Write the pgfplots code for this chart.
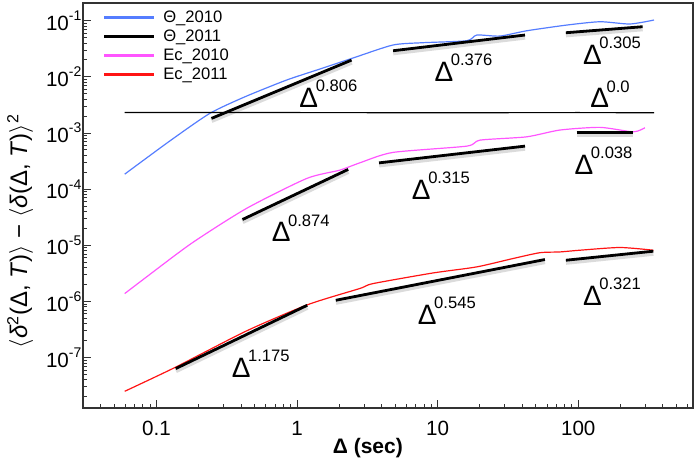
\documentclass[border=0pt]{standalone}
\usepackage{fontspec}
\setmainfont{Liberation Sans}
\usepackage{pgfplots}
\pgfplotsset{compat=1.18}
\usetikzlibrary{calc}
\definecolor{cblue}{RGB}{85,125,255}
\definecolor{cmag}{RGB}{255,85,255}
\definecolor{cred}{RGB}{255,20,20}
\newcommand{\dl}[1]{{\fontsize{14}{14}\selectfont Δ}\kern-1.2pt\raisebox{7.8pt}{\fontsize{8.3}{8.3}\selectfont #1}}
\newcommand{\tl}[1]{10\raisebox{4.8pt}{\fontsize{7}{7}\selectfont -#1}}
\tikzset{
  fitshadow/.style={black, opacity=0.14, line width=2.6pt, yshift=-1pt},
  fitline/.style={black, line width=1.4pt},
  lbl/.style={anchor=base west, inner sep=0pt},
}
\begin{document}
\begin{tikzpicture}
\begin{axis}[name=ax, xmode=log, ymode=log,
  width=305pt, height=202.5pt, scale only axis,
  xmin=0.03, xmax=655, ymin=1.265e-8, ymax=0.2068,
  axis line style={line width=0.7pt, black!80},
  tick align=inside, tick pos=left,
  major tick length=3.8pt, minor tick length=2pt,
  every tick/.style={black!80, line width=0.5pt},
  xtick={0.1,1,10,100}, xticklabels={0.1,1,10,100},
  minor xtick={0.03,0.04,0.05,0.06,0.07,0.08,0.09,0.2,0.3,0.4,0.5,0.6,0.7,0.8,0.9,2,3,4,5,6,7,8,9,20,30,40,50,60,70,80,90,200,300,400,500,600},
  ytick={1e-7,1e-6,1e-5,1e-4,1e-3,1e-2,1e-1},
  yticklabels={\tl{7},\tl{6},\tl{5},\tl{4},\tl{3},\tl{2},\tl{1}},
  minor ytick={2e-8,3e-8,4e-8,5e-8,6e-8,7e-8,8e-8,9e-8,
    2e-7,3e-7,4e-7,5e-7,6e-7,7e-7,8e-7,9e-7,
    2e-6,3e-6,4e-6,5e-6,6e-6,7e-6,8e-6,9e-6,
    2e-5,3e-5,4e-5,5e-5,6e-5,7e-5,8e-5,9e-5,
    2e-4,3e-4,4e-4,5e-4,6e-4,7e-4,8e-4,9e-4,
    2e-3,3e-3,4e-3,5e-3,6e-3,7e-3,8e-3,9e-3,
    2e-2,3e-2,4e-2,5e-2,6e-2,7e-2,8e-2,9e-2,0.2},
  ticklabel style={font=\fontsize{10.3}{12}\selectfont},
  xticklabel style={yshift=-2.9pt},
  yticklabel style={inner sep=0.6pt},
  xlabel={Δ (sec)},
  xlabel style={at={(axis description cs:0.467,0)}, anchor=center, yshift=-20pt, font=\fontsize{10.5}{12}\selectfont\bfseries},
  ylabel={$\langle$\textit{δ}\textsuperscript{2}(Δ, \textit{T})$\rangle$ − $\langle$\textit{δ}(Δ, \textit{T})$\rangle$\textsuperscript{2}},
  ylabel style={at={(axis description cs:-0.103,0.437)}, anchor=center, font=\fontsize{12}{14}\selectfont},
  legend style={at={(axis description cs:0.0225,0.993)}, anchor=north west, draw=none, fill=none,
    font=\fontsize{8.3}{10}\selectfont, nodes={inner sep=0pt, text height=6pt, text depth=1.5pt},
    row sep=2pt, column sep=3.8pt},
  legend cell align=left,
  legend image code/.code={\draw[#1, line width=1.3pt] (0pt,0pt) -- (25pt,0pt);},
]
\addplot[cblue, line width=0.6pt, smooth, tension=0.4] coordinates {
(0.0594,1.85e-4) (0.124,7.18e-4) (0.239,2.23e-3) (0.425,4.41e-3) (0.841,8.77e-3)
(1.45,0.01377) (2.49,0.0216) (4.80,0.0369) (7.85,0.0406) (16.1,0.0440) (19.0,0.0556)
(27.7,0.0533) (43.1,0.0663) (83.2,0.0838) (143,0.0959) (233,0.0874) (346,0.1029)};
\addlegendentry{Θ\_2010}
\addplot[black, line width=0.6pt] coordinates {
(0.0594,2.31e-3) (1,2.31e-3) (10,2.30e-3) (100,2.31e-3) (346,2.30e-3)};
\addlegendentry{Θ\_2011}
\addplot[cmag, line width=0.6pt, smooth, tension=0.4] coordinates {
(0.0594,1.38e-6) (0.0802,2.45e-6) (0.177,1.08e-5) (0.436,4.53e-5) (1.17,1.55e-4)
(2.01,2.18e-4) (2.79,2.94e-4) (4.80,4.51e-4) (16.1,5.84e-4) (20.0,7.47e-4) (42.9,8.55e-4)
(74.1,1.13e-3) (143,1.26e-3) (246,1.05e-3) (298,1.24e-3)};
\addlegendentry{Ec\_2010}
\addplot[cred, line width=0.6pt, smooth, tension=0.4] coordinates {
(0.0594,2.51e-8) (0.1348,6.64e-8) (0.436,2.98e-7) (1.198,8.81e-7) (2.79,1.70e-6)
(3.47,2.08e-6) (9.29,3.22e-6) (18.9,4.12e-6) (34.4,5.82e-6) (53.3,7.38e-6)
(74.1,7.62e-6) (103,8.18e-6) (198,9.14e-6) (342,8.18e-6)};
\addlegendentry{Ec\_2011}
% fits
\addplot[fitshadow, forget plot] coordinates {(0.246,1.82e-3) (2.44,0.0199)};
\addplot[fitline, forget plot] coordinates {(0.246,1.82e-3) (2.44,0.0199)};
\addplot[fitshadow, forget plot] coordinates {(4.82,0.0292) (41.8,0.0556)};
\addplot[fitline, forget plot] coordinates {(4.82,0.0292) (41.8,0.0556)};
\addplot[fitshadow, forget plot] coordinates {(81.7,0.0611) (287,0.0782)};
\addplot[fitline, forget plot] coordinates {(81.7,0.0611) (287,0.0782)};
\addplot[fitshadow, forget plot] coordinates {(0.409,2.88e-5) (2.31,2.25e-4)};
\addplot[fitline, forget plot] coordinates {(0.409,2.88e-5) (2.31,2.25e-4)};
\addplot[fitshadow, forget plot] coordinates {(3.83,2.94e-4) (41.8,5.84e-4)};
\addplot[fitline, forget plot] coordinates {(3.83,2.94e-4) (41.8,5.84e-4)};
\addplot[fitshadow, forget plot] coordinates {(97.4,1.01e-3) (244,1.01e-3)};
\addplot[fitline, forget plot] coordinates {(97.4,1.01e-3) (244,1.01e-3)};
\addplot[fitshadow, forget plot] coordinates {(0.137,6.37e-8) (1.18,8.55e-7)};
\addplot[fitline, forget plot] coordinates {(0.137,6.37e-8) (1.18,8.55e-7)};
\addplot[fitshadow, forget plot] coordinates {(1.886,1.05e-6) (57.9,5.58e-6)};
\addplot[fitline, forget plot] coordinates {(1.886,1.05e-6) (57.9,5.58e-6)};
\addplot[fitshadow, forget plot] coordinates {(81.7,5.42e-6) (342,7.85e-6)};
\addplot[fitline, forget plot] coordinates {(81.7,5.42e-6) (342,7.85e-6)};
% labels
\node[lbl] at (axis cs:1.033,2.86e-3) {\dl{0.806}};
\node[lbl] at (axis cs:9.44,8.41e-3) {\dl{0.376}};
\node[lbl] at (axis cs:107.5,0.0169) {\dl{0.305}};
\node[lbl] at (axis cs:121,2.81e-3) {\dl{0.0}};
\node[lbl] at (axis cs:93.6,1.83e-4) {\dl{0.038}};
\node[lbl] at (axis cs:0.657,1.15e-5) {\dl{0.874}};
\node[lbl] at (axis cs:6.52,6.64e-5) {\dl{0.315}};
\node[lbl] at (axis cs:0.341,4.51e-8) {\dl{1.175}};
\node[lbl] at (axis cs:7.19,3.93e-7) {\dl{0.545}};
\node[lbl] at (axis cs:107.5,8.55e-7) {\dl{0.321}};
\end{axis}
\pgfresetboundingbox
\path[use as bounding box] ($(ax.south west)+(-41.5pt,-26.5pt)$) rectangle ($(ax.north east)+(3.5pt,1.5pt)$);
\end{tikzpicture}
\end{document}
